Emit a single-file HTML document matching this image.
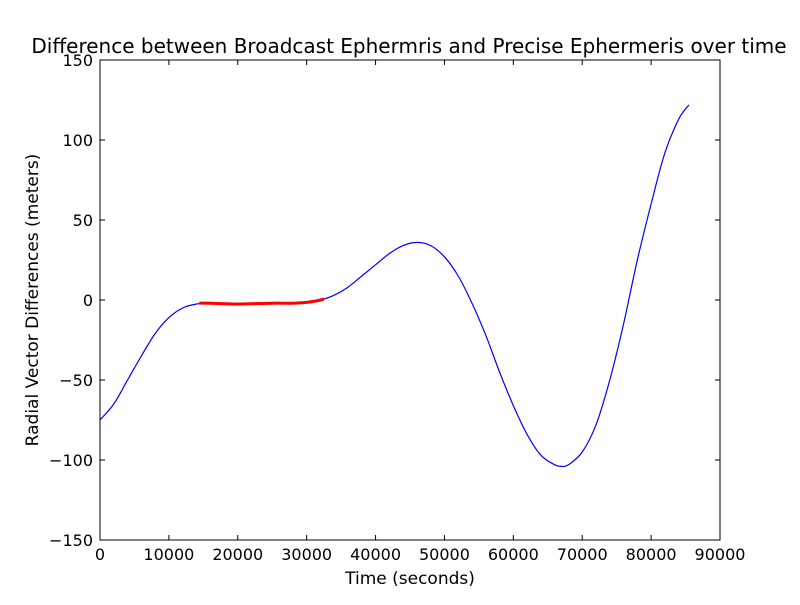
<!DOCTYPE html>
<html><head><meta charset="utf-8"><style>
body{margin:0;background:#fff;width:800px;height:600px;overflow:hidden}
text{font-family:"DejaVu Sans","Liberation Sans",sans-serif;fill:#000}
</style></head><body>
<svg id="chart" width="800" height="600" xmlns="http://www.w3.org/2000/svg">
<rect width="800" height="600" fill="#fff"/>
<text x="409" y="53" font-size="20" text-anchor="middle">Difference between Broadcast Ephermris and Precise Ephermeris over time</text>
<text x="410" y="584" font-size="17" text-anchor="middle">Time (seconds)</text>
<text x="38" y="300" font-size="17" text-anchor="middle" transform="rotate(-90 38 300)">Radial Vector Differences (meters)</text>
<g id="ticks"></g>
<g id="series"></g>
<rect x="100" y="60" width="620" height="480" fill="none" stroke="#000" stroke-width="1"/>
</svg>
<script>
const xTicks=[0,10000,20000,30000,40000,50000,60000,70000,80000,90000];
const yTicks=[-150,-100,-50,0,50,100,150];
const yTickLabels=["\u2212150","\u2212100","\u221250","0","50","100","150"];
const blueT=[0,2000,4000,6000,8000,10000,12000,14000,16000,20000,25000,28000,30000,32000,34000,36000,38000,40000,42000,44000,46000,48000,50000,52000,54000,56000,58000,60000,62000,64000,66000,67000,68000,70000,72000,74000,76000,78000,80000,82000,84000,85500];
const blueV=[-75,-65,-50,-35,-21,-11,-5,-2.5,-2,-2.5,-2,-2,-1.5,0,3,8,15,22,29,34,36,34,27,15,-2,-22,-45,-66,-84,-97,-103,-104,-103,-95,-78,-50,-15,25,60,92,113,122];
const redT=[14400,16000,20000,25000,28000,30000,31500,32500];
const redV=[-2,-2,-2.5,-2,-2,-1.5,-0.5,0.5];
const NS="http://www.w3.org/2000/svg";
const X=v=>100+(v-0)/90000*620, Y=v=>300-v*1.6;
const tg=document.getElementById('ticks'), sg=document.getElementById('series');
function mk(t,a,p){const e=document.createElementNS(NS,t);for(const k in a)e.setAttribute(k,a[k]);p.appendChild(e);return e;}
xTicks.forEach(v=>{const x=X(v);
 const a=mk('line',{x1:x,x2:x,y1:540,y2:535,stroke:'#000'},tg);
 
 
 const b=mk('line',{x1:x,x2:x,y1:60,y2:65,stroke:'#000'},tg);
 
 
 const t=mk('text',{x:x,y:560,'font-size':16,'text-anchor':'middle'},tg);t.textContent=v;
 
 });
yTicks.forEach((v,i)=>{const y=Y(v);
 const a=mk('line',{x1:100,x2:105,y1:y,y2:y,stroke:'#000'},tg);
 
 
 const b=mk('line',{x1:715,x2:720,y1:y,y2:y,stroke:'#000'},tg);
 
 
 const t=mk('text',{x:93,y:y+6,'font-size':16,'text-anchor':'end'},tg);t.textContent=yTickLabels[i];
 
 });
function path(ts,vs){const p=ts.map((t,i)=>[X(t),Y(vs[i])]);let d='M'+p[0][0]+','+p[0][1];
 for(let i=0;i<p.length-1;i++){const p0=p[Math.max(i-1,0)],p1=p[i],p2=p[i+1],p3=p[Math.min(i+2,p.length-1)];
 d+=' C'+(p1[0]+(p2[0]-p0[0])/6)+','+(p1[1]+(p2[1]-p0[1])/6)+' '+(p2[0]-(p3[0]-p1[0])/6)+','+(p2[1]-(p3[1]-p1[1])/6)+' '+p2[0]+','+p2[1];}
 return d;}
const bl=mk('path',{d:path(blueT,blueV),fill:'none',stroke:'#0000ff','stroke-width':1.2},sg);


const rl=mk('path',{d:path(redT,redV),fill:'none',stroke:'#ff0000','stroke-width':3},sg);


</script>
</body></html>
